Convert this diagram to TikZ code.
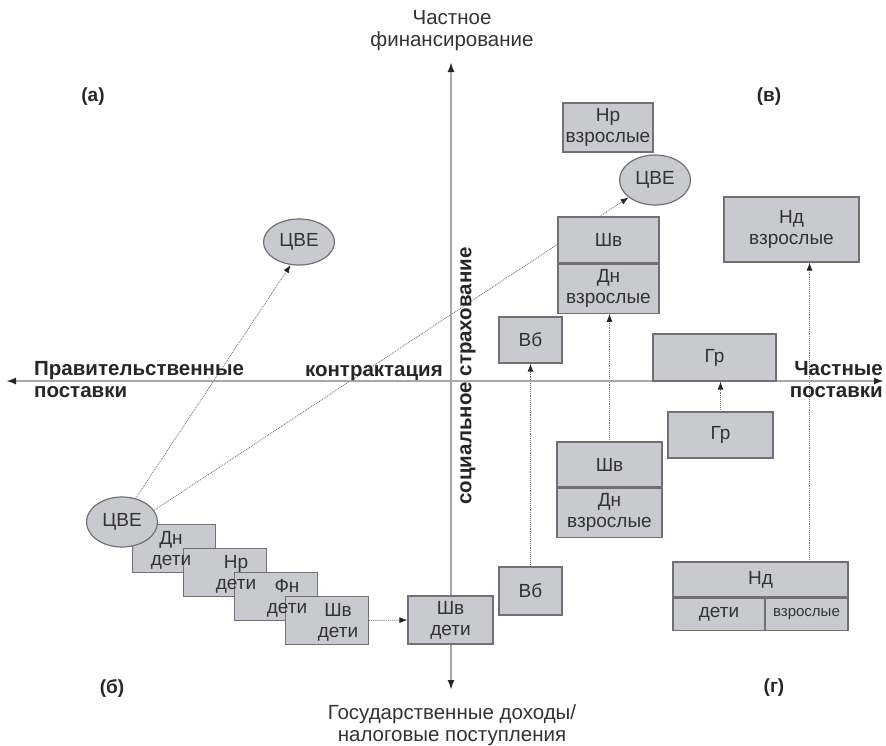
\documentclass[tikz,border=0pt]{standalone}
\usepackage{fontspec}
\setmainfont{Liberation Sans}
\usetikzlibrary{shapes.geometric,arrows.meta}

\pgfdeclarelayer{background}
\pgfsetlayers{background,main}

\definecolor{boxfill}{RGB}{200,202,208}
\definecolor{boxline}{RGB}{112,112,118}
\definecolor{axisgray}{RGB}{168,168,170}
\definecolor{linkgray}{RGB}{120,120,124}

\tikzset{
  box/.style={draw=boxline, fill=boxfill, line width=1.2pt, inner sep=0pt,
    align=center, text=black!80, font=\fontsize{19}{21}\selectfont},
  boxtext/.style={align=center, text=black!80, inner sep=0pt, font=\fontsize{19}{21}\selectfont},
  cve/.style={box, ellipse, minimum width=71pt, minimum height=50pt},
  link/.style={densely dotted, draw=linkgray, line width=0.9pt,
    -{Latex[length=8pt,width=6pt,color=black!85]}},
  axis/.style={draw=axisgray, line width=2.2pt,
    {Latex[length=10pt,width=7pt,color=black!85]}-{Latex[length=10pt,width=7pt,color=black!85]}},
  axlabel/.style={font=\bfseries\fontsize{20.5}{22}\selectfont, text=black!85, inner sep=0pt},
  quad/.style={font=\bfseries\fontsize{19}{21}\selectfont, text=black!85, inner sep=0pt},
  endlabel/.style={font=\fontsize{20.5}{22}\selectfont, align=center, text=black!80, inner sep=0pt},
}

\begin{document}
\begin{tikzpicture}[x=1pt, y=-1pt]
\useasboundingbox (0,0) rectangle (886,745);

%--- Axes ---
\coordinate (axN) at (451,62);
\coordinate (axS) at (451,690);
\coordinate (axW) at (6,381);
\coordinate (axE) at (884,381);
\draw[axis] (axS) -- (axN);
\draw[axis] (axW) -- (axE);

\node[endlabel] (finLab) at (452,31) {Частное\\финансирование};
\node[endlabel] (taxLab) at (452,725) {Государственные доходы/\\налоговые поступления};

\node[axlabel, anchor=west, align=left] (govLab) at (34,380) {Правительственные\\поставки};
\node[axlabel, anchor=east, align=right] (privLab) at (883,380) {Частные\\поставки};
\node[axlabel, anchor=base east] (contrLab) at (443,376) {контрактация};
\node[axlabel, rotate=90] (insLab) at (468,376) {социальное страхование};

%--- Quadrants ---
\node[quad] (qa) at (93,97) {(а)};
\node[quad] (qv) at (769,97) {(в)};
\node[quad] (qb) at (112,688) {(б)};
\node[quad] (qg) at (774,688) {(г)};

%--- Staircase of children's programmes ---
\foreach \nm [count=\i from 0] in {dnKids, nrKids, fnKids, shvKids}{
  \node[box, minimum width=83pt, minimum height=48pt] (\nm)
    at ({174+51*\i},{548.5+24*\i}) {};
}
\node[cve] (cveLow) at (122,522) {ЦВЕ};
% labels stay readable over the next box
\foreach \nm/\lab [count=\i from 0] in {dnKids/Дн, nrKids/Нр, fnKids/Фн, shvKids/Шв}{
  \pgfmathsetmacro{\ksh}{\i>0 ? 11 : -3}
  \node[boxtext] (\nm-t) at ([xshift=\ksh pt, yshift=-2pt]\nm.center) {\lab\\дети};
}
\node[box, minimum width=85pt, minimum height=48pt] (shvKidsR) at (450.5,620) {Шв\\дети};

%--- Quadrant (a) ---
\node[cve, minimum height=46pt] (cveTL) at (299,242) {ЦВЕ};

%--- Quadrant (в) ---
\node[box, minimum width=90pt, minimum height=49pt] (nrAdults) at (608,127.5) {Нр\\взрослые};
\node[cve] (cveTR) at (655,180) {ЦВЕ};
\node[box, minimum width=101pt, minimum height=46pt] (shvUp) at (608.5,240) {Шв};
\node[box, minimum width=101pt, minimum height=49pt, anchor=north] (dnUp) at (shvUp.south) {Дн\\взрослые};
\node[box, minimum width=63pt, minimum height=46pt] (vbUp) at (530.5,340) {Вб};
\node[box, minimum width=123pt, minimum height=47pt] (grUp) at (714.5,357.5) {Гр};
\node[box, minimum width=135pt, minimum height=65pt] (ndAdultUp) at (791.5,229.5) {Нд\\взрослые};

%--- Quadrant (г) ---
\node[box, minimum width=105pt, minimum height=46pt] (grLow) at (720.5,435) {Гр};
\node[box, minimum width=105pt, minimum height=45pt] (shvLow) at (609.5,464.5) {Шв};
\node[box, minimum width=105pt, minimum height=49pt, anchor=north] (dnLow) at (shvLow.south) {Дн\\взрослые};
\node[box, minimum width=63pt, minimum height=48pt] (vbLow) at (530.5,591) {Вб};
\node[box, minimum width=175pt, minimum height=35pt] (ndAll) at (760.5,579.5) {Нд};
\node[box, minimum width=92pt, minimum height=32pt, anchor=north west] (ndKidCell) at (ndAll.south west) {дети};
\node[box, minimum width=83pt, minimum height=32pt, anchor=north east,
  font=\fontsize{15}{17}\selectfont] (ndAdultCell) at (ndAll.south east) {взрослые};

%--- Links ---
\coordinate (ndTip) at ([xshift=18pt]ndAdultUp.south);
\begin{pgfonlayer}{background}
  \draw[link] (cveLow.60) -- (cveTL.250);
  \draw[link] (cveLow.20) -- (cveTR);
  \draw[link] (shvKids.east) -- (shvKidsR.west);
  \draw[link] (vbLow.north) -- (vbUp.south);
  \draw[link] (shvLow.north) -- (shvLow.north |- dnUp.south);
  \draw[link] (grLow.north) -- (grLow.north |- grUp.south);
  \draw[link] (ndTip |- ndAll.north) -- (ndTip);
\end{pgfonlayer}

\end{tikzpicture}
\end{document}
